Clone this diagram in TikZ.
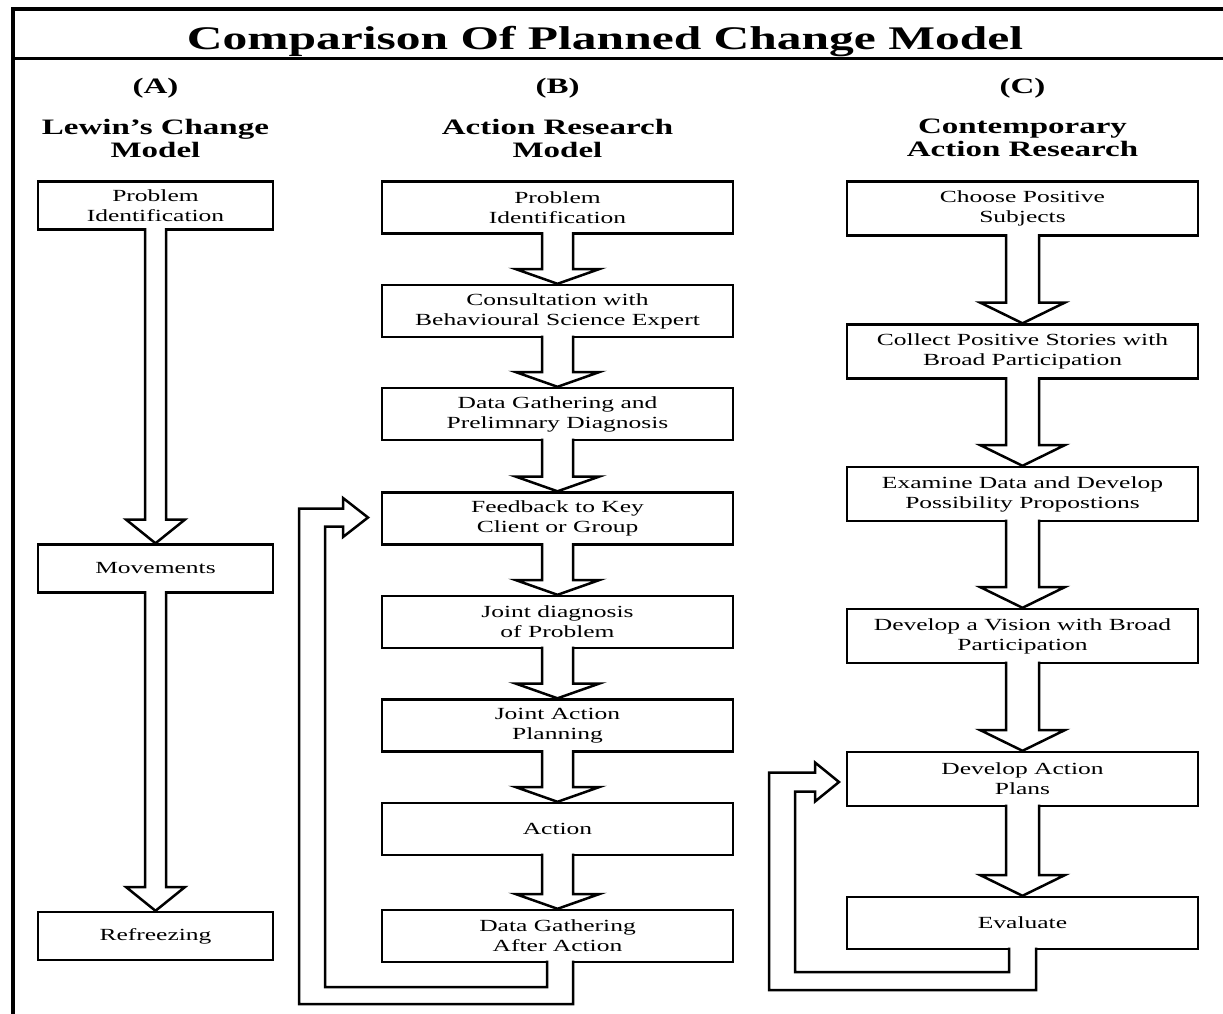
\documentclass[tikz,border=0pt]{standalone}
\usepackage{fontspec}
\setmainfont{Liberation Serif}[FakeStretch=1.5]
\usetikzlibrary{calc}
\tikzset{
  box/.style={draw, line width=2.8pt, outer sep=0pt, inner sep=0pt, align=center,
    font=\fontsize{17}{20}\selectfont},
  boxA/.style={box, minimum width=235pt, minimum height=48pt},
  boxB/.style={box, minimum width=351pt, minimum height=52pt},
  boxC/.style={box, minimum width=351pt, minimum height=54pt},
  arr/.style={draw, fill=white, line width=2.5pt, line join=miter},
  colhead/.style={font=\fontsize{22}{23}\selectfont\bfseries, align=center, inner sep=0pt, anchor=north},
  collab/.style={font=\fontsize{22}{23}\selectfont\bfseries, inner sep=0pt, anchor=base},
  titletext/.style={font=\fontsize{33}{36}\selectfont\bfseries, inner sep=0pt, anchor=base},
  frameline/.style={line width=3.5pt},
  sepline/.style={line width=3pt}
}
% #1 source node, #2 target node, #3 half shaft width, #4 half head width, #5 head length
\newcommand\blockarrow[5]{%
  \draw[arr] ([xshift=-#3pt,yshift=1.4pt]#1.south)
    -- ([xshift=-#3pt,yshift=#5pt]#2.north)
    -- ([xshift=-#4pt,yshift=#5pt]#2.north)
    -- ([yshift=1.2pt]#2.north)
    -- ([xshift=#4pt,yshift=#5pt]#2.north)
    -- ([xshift=#3pt,yshift=#5pt]#2.north)
    -- ([xshift=#3pt,yshift=1.4pt]#1.south);}
\begin{document}
\begin{tikzpicture}[x=1pt,y=-1pt]
\useasboundingbox (0,0) rectangle (1223,1014);
\fill[white] (0,0) rectangle (1223,1014);
% frame
\draw[frameline] (13,1016) -- (13,9) -- (1225,9);
\draw[sepline] (13,59) -- (1225,59);
\node[titletext] (title) at (605,50) {Comparison Of Planned Change Model};
% column labels
\node[collab] (labA) at (155.5,94) {(A)};
\node[collab] (labB) at (557.5,94) {(B)};
\node[collab] (labC) at (1022.5,94) {(C)};
\node[colhead] (hA) at (155.5,119) {Lewin’s Change\\Model};
\node[colhead] (hB) at (557.5,119) {Action Research\\Model};
\node[colhead] (hC) at (1022.5,119) {Contemporary\\Action Research};
% column A
\node[boxA] (A1) at (155.5,205.5) {Problem\\Identification};
\node[boxA] (A2) at (155.5,568.5) {Movements};
\node[boxA] (A3) at (155.5,936) {Refreezing};
% column B
\node[boxB] (B1) at (557.5,207.5) {Problem\\Identification};
\node[boxB] (B2) at (557.5,311) {Consultation with\\Behavioural Science Expert};
\node[boxB] (B3) at (557.5,414) {Data Gathering and\\Prelimnary Diagnosis};
\node[boxB] (B4) at (557.5,518.5) {Feedback to Key\\Client or Group};
\node[boxB] (B5) at (557.5,622) {Joint diagnosis\\of Problem};
\node[boxB] (B6) at (557.5,725.5) {Joint Action\\Planning};
\node[boxB] (B7) at (557.5,829) {Action};
\node[boxB] (B8) at (557.5,936) {Data Gathering\\After Action};
% column C
\node[boxC] (C1) at (1022.5,208.5) {Choose Positive\\Subjects};
\node[boxC] (C2) at (1022.5,351.5) {Collect Positive Stories with\\Broad Participation};
\node[boxC] (C3) at (1022.5,494) {Examine Data and Develop\\Possibility Propostions};
\node[boxC] (C4) at (1022.5,636) {Develop a Vision with Broad\\Participation};
\node[boxC] (C5) at (1022.5,779) {Develop Action\\Plans};
\node[boxC, minimum height=52pt] (C6) at (1022.5,923) {Evaluate};
% arrows A
\blockarrow{A1}{A2}{10.5}{29.5}{25}
\blockarrow{A2}{A3}{10.5}{29.5}{25}
% arrows B
\blockarrow{B1}{B2}{15.5}{42}{16}
\blockarrow{B2}{B3}{15.5}{42}{16}
\blockarrow{B3}{B4}{15.5}{42}{16}
\blockarrow{B4}{B5}{15.5}{42}{16}
\blockarrow{B5}{B6}{15.5}{42}{16}
\blockarrow{B6}{B7}{15.5}{42}{16}
\blockarrow{B7}{B8}{15.5}{42}{16}
% arrows C
\blockarrow{C1}{C2}{16.5}{42.5}{22}
\blockarrow{C2}{C3}{16.5}{42.5}{22}
\blockarrow{C3}{C4}{16.5}{42.5}{22}
\blockarrow{C4}{C5}{16.5}{42.5}{22}
\blockarrow{C5}{C6}{16.5}{42.5}{22}
% feedback loop B
\coordinate (btip) at ([xshift=-14pt,yshift=1pt]B4.west);
\draw[arr] ([xshift=15.5pt,yshift=1.4pt]B8.south) -- ++(0,43.4) -- ++(-274,0)
  |- ($(btip)+(-25,-9)$) -- ($(btip)+(-25,-19.5)$) -- (btip)
  -- ($(btip)+(-25,19.5)$) -- ($(btip)+(-25,9)$) -- ++(-18,0)
  |- ([xshift=-10.5pt,yshift=-25pt]B8.south) -- ([xshift=-10.5pt,yshift=1.4pt]B8.south);
% feedback loop C
\coordinate (ctip) at ([xshift=-8pt,yshift=-3pt]C5.west);
\draw[arr] ([xshift=13.5pt,yshift=1.4pt]C6.south) -- ++(0,42.4) -- ++(-267,0)
  |- ($(ctip)+(-24,-9.5)$) -- ($(ctip)+(-24,-19.5)$) -- (ctip)
  -- ($(ctip)+(-24,19.5)$) -- ($(ctip)+(-24,9.5)$) -- ++(-20,0)
  |- ([xshift=-13.5pt,yshift=-23pt]C6.south) -- ([xshift=-13.5pt,yshift=1.4pt]C6.south);
\end{tikzpicture}
\end{document}
